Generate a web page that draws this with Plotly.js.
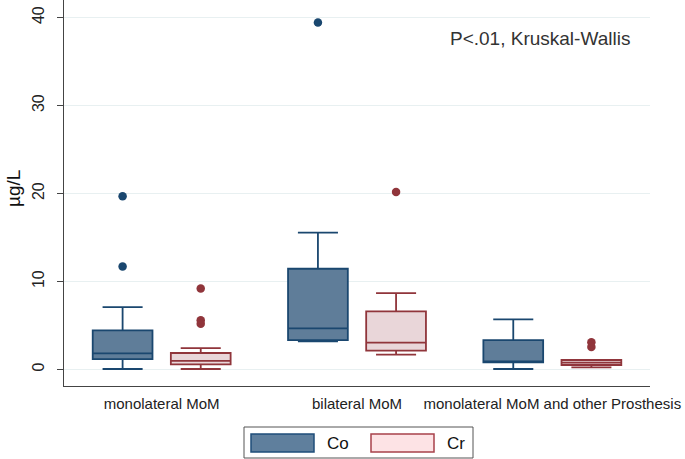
<!DOCTYPE html>
<html>
<head>
<meta charset="utf-8">
<script src="https://cdn.plot.ly/plotly-3.0.1.min.js"></script>
<style>html,body{margin:0;padding:0;background:#fff;}#chart{width:685px;height:459px;}</style>
</head>
<body>
<div id="chart"></div>
<script>
// ---- data ----
var categories = ["monolateral MoM", "bilateral MoM", "monolateral MoM and other Prosthesis"];
var seriesNames = ["Co", "Cr"];

var coQ1 = [1.19, 3.35, 0.80];
var coMedian = [1.84, 4.68, 0.85];
var coQ3 = [4.45, 11.45, 3.35];
var coLower = [0.06, 3.20, 0.06];
var coUpper = [7.10, 15.55, 5.70];
var coOutlierGroup = [0, 0, 1];
var coOutlierValue = [19.7, 11.7, 39.45];

var crQ1 = [0.59, 2.14, 0.51];
var crMedian = [0.97, 3.05, 0.79];
var crQ3 = [1.875, 6.61, 1.08];
var crLower = [0.06, 1.68, 0.25];
var crUpper = [2.44, 8.69, 1.08];
var crOutlierGroup = [0, 0, 0, 1, 2, 2];
var crOutlierValue = [9.2, 5.6, 5.2, 20.17, 3.1, 2.55];

var yTicks = [0, 10, 20, 30, 40];
var yTitle = "µg/L";
var noteText = "P<.01, Kruskal-Wallis";

// ---- styles ----
var FONT = "Liberation Sans, Arial, sans-serif";
var coLine = "#1a476f", coFill = "#5f7d99";
var crLine = "#90353b", crFill = "#e9d6d9";
var legFill = ["#5f7f9d", "#fde3e5"];
var legLine = ["#1f4e7a", "#a8424b"];
var offset = 0.2;
var boxW = 0.306;

function idx(arr) { return arr.map(function (_, i) { return i; }); }

var traces = [
  {
    type: "box", name: seriesNames[0], showlegend: false,
    x: idx(categories).map(function (i) { return i - offset; }),
    q1: coQ1, median: coMedian, q3: coQ3, lowerfence: coLower, upperfence: coUpper,
    width: boxW, whiskerwidth: 0.67,
    fillcolor: coFill, line: { color: coLine, width: 1.8 },
    hoverinfo: "skip"
  },
  {
    type: "box", name: seriesNames[1], showlegend: false,
    x: idx(categories).map(function (i) { return i + offset; }),
    q1: crQ1, median: crMedian, q3: crQ3, lowerfence: crLower, upperfence: crUpper,
    width: boxW, whiskerwidth: 0.67,
    fillcolor: crFill, line: { color: crLine, width: 1.8 },
    hoverinfo: "skip"
  },
  {
    type: "scatter", mode: "markers", showlegend: false,
    x: coOutlierGroup.map(function (g) { return g - offset; }),
    y: coOutlierValue,
    marker: { color: coLine, size: 8.5 }, hoverinfo: "skip"
  },
  {
    type: "scatter", mode: "markers", showlegend: false,
    x: crOutlierGroup.map(function (g) { return g + offset; }),
    y: crOutlierValue,
    marker: { color: crLine, size: 8.5 }, hoverinfo: "skip"
  }
];

// pixel -> paper helpers for the hand-drawn legend
var L = 64, R = 650, T = 0, B = 386;
function px(x) { return (x - L) / (R - L); }
function py(y) { return (B - y) / (B - T); }

var shapes = [
  { type: "rect", xref: "paper", yref: "paper", x0: px(244), x1: px(473), y0: py(427), y1: py(458),
    line: { color: "#555", width: 1 }, fillcolor: "#fff", layer: "above" }
];
var annotations = [
  { xref: "paper", yref: "paper", x: px(448), y: py(38), xanchor: "left", yanchor: "middle",
    text: noteText, showarrow: false, font: { family: FONT, size: 19, color: "#333" } },
  { xref: "paper", yref: "paper", x: px(13), y: py(189), xanchor: "center", yanchor: "middle",
    textangle: -90, text: yTitle, showarrow: false, font: { family: FONT, size: 19, color: "#111" } }
];
var swX = [251, 371];
seriesNames.forEach(function (n, i) {
  shapes.push({ type: "rect", xref: "paper", yref: "paper", x0: px(swX[i]), x1: px(swX[i] + 63),
    y0: py(434), y1: py(452), fillcolor: legFill[i], line: { color: legLine[i], width: 1.5 }, layer: "above" });
  annotations.push({ xref: "paper", yref: "paper", x: px(swX[i] + 74), y: py(443), xanchor: "left", yanchor: "middle",
    text: n, showarrow: false, font: { family: FONT, size: 17, color: "#111" } });
});

var layout = {
  width: 685, height: 459,
  margin: { l: L, r: 685 - R, t: T, b: 459 - B, pad: 0 },
  paper_bgcolor: "#fff", plot_bgcolor: "#fff",
  boxmode: "overlay",
  showlegend: false,
  font: { family: FONT, color: "#222" },
  xaxis: {
    range: [-0.5, 2.5], tickmode: "array", tickvals: idx(categories), ticktext: categories,
    showgrid: false, zeroline: false, showline: true, linecolor: "#444", linewidth: 1.2,
    ticks: "", tickfont: { family: FONT, size: 15, color: "#222" }, ticklabelstandoff: 4
  },
  yaxis: {
    range: [-1.875, 42], tickmode: "array", tickvals: yTicks, ticktext: yTicks.map(String),
    showgrid: true, gridcolor: "#e8f0f1", gridwidth: 1.5, zeroline: false,
    showline: true, linecolor: "#444", linewidth: 1.2,
    ticks: "outside", ticklen: 6, tickcolor: "#444", tickwidth: 1,
    tickangle: -90, tickfont: { family: FONT, size: 16, color: "#222" }, ticklabelstandoff: 6
  },
  shapes: shapes,
  annotations: annotations
};

Plotly.newPlot("chart", traces, layout, { staticPlot: true });
</script>
</body>
</html>
